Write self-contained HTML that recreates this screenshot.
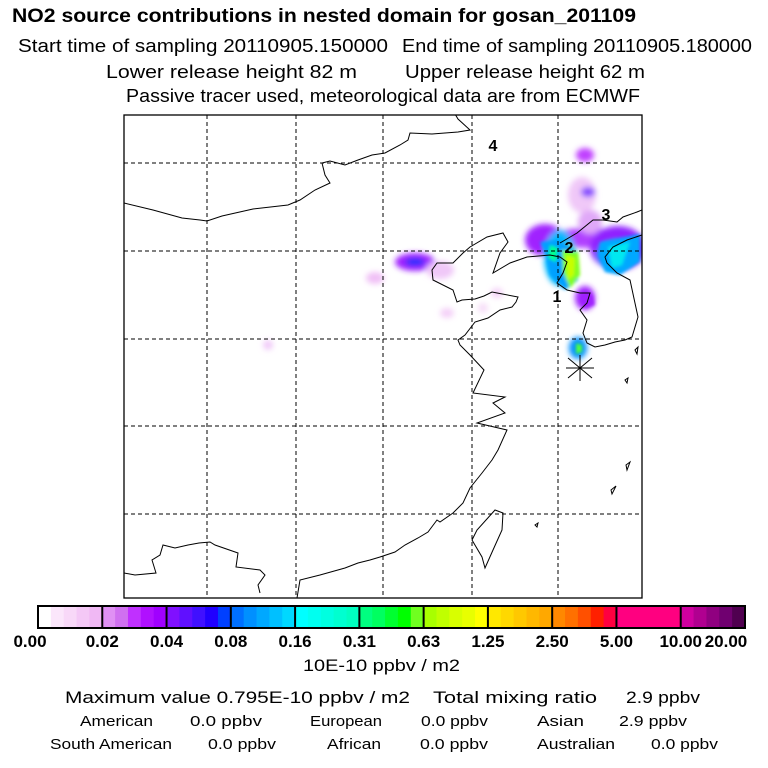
<!DOCTYPE html>
<html><head><meta charset="utf-8"><style>
html,body{margin:0;padding:0;background:#fff;width:768px;height:768px;overflow:hidden}
svg{display:block;font-family:"Liberation Sans",sans-serif}
</style></head><body>
<svg id="chart" width="768" height="768" viewBox="0 0 768 768">
<defs>
<filter id="bl" x="-50%" y="-50%" width="200%" height="200%"><feGaussianBlur stdDeviation="3"/></filter>
<filter id="bl2" x="-50%" y="-50%" width="200%" height="200%"><feGaussianBlur stdDeviation="1.5"/></filter>
<clipPath id="mapclip"><rect x="124" y="115" width="518" height="483"/></clipPath>
</defs>
<g>
<text x="12" y="22" font-size="19" font-weight="bold" textLength="624" lengthAdjust="spacingAndGlyphs">NO2 source contributions in nested domain for gosan_201109</text>
<text x="18" y="52" font-size="18" textLength="370" lengthAdjust="spacingAndGlyphs">Start time of sampling 20110905.150000</text>
<text x="402" y="52" font-size="18" textLength="350" lengthAdjust="spacingAndGlyphs">End time of sampling 20110905.180000</text>
<text x="106" y="78" font-size="18" textLength="251" lengthAdjust="spacingAndGlyphs">Lower release height   82 m</text>
<text x="405" y="78" font-size="18" textLength="240" lengthAdjust="spacingAndGlyphs">Upper release height   62 m</text>
<text x="126" y="102" font-size="18" textLength="514" lengthAdjust="spacingAndGlyphs">Passive tracer used, meteorological data are from ECMWF</text>
</g>
<g id="map" clip-path="url(#mapclip)"></g>
<rect x="124" y="115" width="518" height="483" fill="none" stroke="#000" stroke-width="1.3"/>
<g id="cbar"></g>
<g font-size="16">
<text x="303" y="671" font-size="17" textLength="157" lengthAdjust="spacingAndGlyphs">10E-10 ppbv / m2</text>
<text x="65" y="703" font-size="17" textLength="345" lengthAdjust="spacingAndGlyphs">Maximum value  0.795E-10 ppbv / m2</text>
<text x="433" y="703" font-size="17" textLength="164" lengthAdjust="spacingAndGlyphs">Total mixing ratio</text>
<text x="626" y="703" font-size="17" textLength="74" lengthAdjust="spacingAndGlyphs">2.9 ppbv</text>
<text x="80" y="726" font-size="15" textLength="73" lengthAdjust="spacingAndGlyphs">American</text>
<text x="190" y="726" font-size="15" textLength="72" lengthAdjust="spacingAndGlyphs">0.0 ppbv</text>
<text x="310" y="726" font-size="15" textLength="72" lengthAdjust="spacingAndGlyphs">European</text>
<text x="421" y="726" font-size="15" textLength="67" lengthAdjust="spacingAndGlyphs">0.0 ppbv</text>
<text x="537" y="726" font-size="15" textLength="47" lengthAdjust="spacingAndGlyphs">Asian</text>
<text x="619" y="726" font-size="15" textLength="68" lengthAdjust="spacingAndGlyphs">2.9 ppbv</text>
<text x="50" y="749" font-size="15" textLength="122" lengthAdjust="spacingAndGlyphs">South American</text>
<text x="208" y="749" font-size="15" textLength="68" lengthAdjust="spacingAndGlyphs">0.0 ppbv</text>
<text x="327" y="749" font-size="15" textLength="54" lengthAdjust="spacingAndGlyphs">African</text>
<text x="420" y="749" font-size="15" textLength="68" lengthAdjust="spacingAndGlyphs">0.0 ppbv</text>
<text x="537" y="749" font-size="15" textLength="78" lengthAdjust="spacingAndGlyphs">Australian</text>
<text x="651" y="749" font-size="15" textLength="67" lengthAdjust="spacingAndGlyphs">0.0 ppbv</text>
</g>
</svg>
<script>
// colorbar data
const levelLabels = ["0.00","0.02","0.04","0.08","0.16","0.31","0.63","1.25","2.50","5.00","10.00","20.00"];
const segmentColors = [
 ["#ffffff","#fbe6fb","#f8d8f8","#f4c8f6","#f0b8f4"],
 ["#e090f4","#d070f0","#c030ff","#b010ff","#a000ff"],
 ["#8010ff","#6010ff","#4010ff","#2000ff","#0040ff"],
 ["#0070ff","#0090ff","#00a8ff","#00c0ff","#00d8ff"],
 ["#00ffff","#00fff0","#00ffe0","#00ffd0","#00ffc0"],
 ["#00ff80","#00ff60","#00ff30","#00ff00","#70ff20"],
 ["#a8ff00","#c0ff00","#d8ff00","#e8ff00","#ffff00"],
 ["#ffe800","#ffd800","#ffc800","#ffb800","#ffa800"],
 ["#ff8800","#ff7000","#ff5000","#ff2000","#ff0040"],
 ["#ff0080","#ff0080","#ff0080","#ff0080","#ff0080"],
 ["#d000a0","#b00090","#900080","#700070","#500050"]
];
// plume data
const plumeCx = [585,582,588,590,545,618,560,615,568,585,578,415,415,375,440,497,447,483,268,590];
const plumeCy = [155,195,192,238,240,248,258,255,265,298,348,262,262,278,270,293,313,308,345,222];
const plumeRx = [9,14,7,42,20,28,16,18,9,10,9,20,10,9,14,6,7,5,5,12];
const plumeRy = [7,18,5,10,16,22,28,14,20,12,11,9,4,6,9,5,5,5,5,12];
const plumeCol= ["#c040ff","#f0c8f8","#8040ff","#b040ff","#a020ff","#9020ff","#00b8ff","#0080ff","#a8ff30","#a020ff","#0090ff","#a020ff","#1030ff","#f0c0f6","#f0c8f8","#f4d0f8","#f4d0f8","#f6dcf8","#f0c8f8","#e0a8f8"];

const NS="http://www.w3.org/2000/svg";
function mk(tag,attrs,parent){const e=document.createElementNS(NS,tag);for(const k in attrs)e.setAttribute(k,attrs[k]);parent.appendChild(e);return e;}

const cb=document.getElementById('cbar');
const cbX0=38,cbX1=745,cbY=606,cbH=22;
const segW=(cbX1-cbX0)/segmentColors.length;
function cbx(i){return cbX0+i*segW;}
segmentColors.forEach((cols,i)=>{
  cols.forEach((c,j)=>{
    const r=mk('rect',{x:cbx(i)+j*segW/cols.length,y:cbY,width:segW/cols.length+0.5,height:cbH,fill:c},cb);
    
    
  });
});
for(let i=0;i<=segmentColors.length;i++){
  const l=mk('line',{x1:cbx(i),x2:cbx(i),y1:cbY,y2:cbY+cbH,stroke:'#000','stroke-width':2},cb);
  
  
}
const fr=mk('rect',{x:cbX0,y:cbY,width:cbX1-cbX0,height:cbH,fill:'none',stroke:'#000','stroke-width':2},cb);


levelLabels.forEach((t,i)=>{
  let x=cbx(i); if(i===0)x=30; if(i===levelLabels.length-1)x=726;
  const tx=mk('text',{x:x,y:647,'font-size':17,'font-weight':'bold','text-anchor':'middle'},cb);
  tx.textContent=t;
  
  
});

const map=document.getElementById('map');
const pg=mk('g',{filter:'url(#bl)'},map);


plumeCx.forEach((cx,i)=>{
  const e=mk('ellipse',{cx:cx,cy:plumeCy[i],rx:plumeRx[i],ry:plumeRy[i],fill:plumeCol[i]},pg);
  
  
});
const ps=mk('g',{filter:'url(#bl2)'},map);


[["M540,242 L558,240 L576,250 L578,280 L565,290 L550,275 L546,255 Z","#00a0ff"],
 ["M600,242 L640,234 L640,262 L620,275 L605,272 L598,255 Z","#00a8ff"],
 ["M608,247 L630,242 L622,265 L612,268 Z","#00e8f0"],
 ["M562,250 L578,252 L580,275 L570,288 L563,272 Z","#80ff20"],
 ["M566,255 L575,258 L574,275 L568,280 Z","#c8ff00"],
 ["M550,245 L558,248 L556,262 L548,258 Z","#00ff90"],
 ["M576,343 L582,345 L582,352 L576,354 Z","#50ff40"],
 ["M582,300 L592,294 L595,305 L585,308 Z","#a020ff"]
].forEach(([d,c])=>{const p=mk('path',{d:d,fill:c},ps);
  });

const gx=[207,296,383,472,558], gy=[163,251,339,426,514];
gx.forEach(x=>{const l=mk('line',{x1:x,x2:x,y1:115,y2:598,stroke:'#000','stroke-width':1,'stroke-dasharray':'4,3'},map);
  });
gy.forEach(y=>{const l=mk('line',{x1:124,x2:642,y1:y,y2:y,stroke:'#000','stroke-width':1,'stroke-dasharray':'4,3'},map);
  });

const coasts=[
 "M124,203 L153,210 L182,218 L200,220 L207,221 L222,216 L253,209 L288,205 L300,200 L315,190 L330,183 L325,175 L322,163 L330,161 L345,165 L358,160 L372,155 L385,153 L400,145 L408,140 L410,133 L432,134 L458,132 L470,130 L458,119 L455,114",
 "M124,573 L135,575 L156,573 L152,560 L160,555 L163,545 L175,548 L188,545 L199,543 L210,542 L215,545 L238,553 L236,567 L260,570 L265,575 L258,585 L260,593",
 "M297,598 L300,580 L320,575 L345,568 L358,563 L370,560 L380,557 L395,552 L405,545 L418,538 L428,532 L437,520 L440,522 L453,513 L463,503 L470,488 L482,473 L492,460 L498,450 L507,430 L477,423 L505,413 L493,403 L505,397 L473,393 L484,370 L470,355 L460,345 L458,340 L465,335 L475,322 L488,318 L500,310 L512,307 L516,302 L518,297 L492,292 L484,296 L475,299 L462,300 L457,302 L453,290 L433,280 L432,270 L437,263 L453,263 L463,253 L470,247 L487,237 L503,233 L508,242 L500,253 L493,273 L510,263 L527,257 L550,255 L560,257 L567,262 L563,273 L557,283 L567,290 L580,293 L590,293 L587,303 L580,310 L587,320 L583,333 L587,343 L595,347 L605,345 L615,342 L625,340 L632,337 L638,317 L630,280 L617,273 L607,263 L605,257 L613,247 L627,240 L642,235",
 "M560,243 L577,233 L593,220 L603,220 L617,222 L623,217 L637,212 L642,210",
 "M495,510 L503,513 L502,530 L493,550 L485,568 L482,557 L472,540 L477,530 Z",
 "M626,465 L630,462 L627,470 Z","M611,490 L616,486 L612,494 Z","M535,525 L538,523 L537,527 Z",
 "M635,350 L638,347 L637,354 Z","M625,380 L628,378 L627,383 Z"
];
coasts.forEach(d=>{const p=mk('path',{d:d,fill:'none',stroke:'#000','stroke-width':1},map);
  });

const st=mk('g',{stroke:'#000','stroke-width':1},map);


[[568,358,592,378],[592,358,568,378],[580,355,580,381],[566,368,594,368]].forEach(a=>mk('line',{x1:a[0],y1:a[1],x2:a[2],y2:a[3]},st));

[["1",557,302],["2",569,253],["3",606,220],["4",493,151]].forEach(([t,x,y])=>{
  const tx=mk('text',{x:x,y:y,'font-size':16,'font-weight':'bold','text-anchor':'middle'},map);
  tx.textContent=t;
  
  
});
</script>
</body></html>
